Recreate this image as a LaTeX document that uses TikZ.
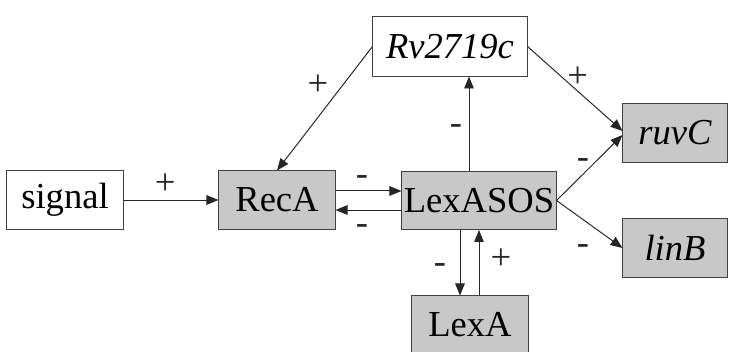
\documentclass[tikz,border=0pt]{standalone}
\usepackage{fontspec}
\setmainfont{Liberation Serif}
\usepackage{xcolor}
\usetikzlibrary{arrows.meta,positioning}

\definecolor{genegray}{RGB}{200,200,200}

\begin{document}
\begin{tikzpicture}[
  x=0.025cm, y=-0.025cm,
  box/.style={draw=black!75, line width=0.7pt, inner sep=0pt, minimum height=1.45cm, font=\fontsize{26}{30}\selectfont},
  gene/.style={box, fill=genegray},
  lbl/.style={inner sep=0pt, font=\fontsize{26}{30}\selectfont},
  arr/.style={line width=0.7pt, black!85, -{Triangle[length=0.3cm,width=0.24cm]}}
]
  \useasboundingbox (0,0) rectangle (732,352);
  \node[box, minimum width=2.9cm] (signal) at (65,200) {signal};
  \node[gene, minimum width=2.9cm] (reca) at (277,200) {RecA};
  \node[gene, minimum width=3.85cm] (lexasos) at (479,200.5) {LexASOS};
  \node[box, minimum width=3.85cm, minimum height=1.475cm] (rv) at (450,46.5) {\itshape Rv2719c};
  \node[gene, minimum width=2.6cm, minimum height=1.475cm] (ruvc) at (675,133) {\itshape ruvC};
  \node[gene, minimum width=2.6cm] (linb) at (675,248) {\itshape linB};
  \node[gene, minimum width=2.9cm] (lexa) at (470,325) {LexA};
  % signalling
  \draw[arr] (signal) -- node[lbl, pos=0.44, shift={(0,-16)}] {+} (reca);
  \draw[arr] (rv.west) -- node[lbl, pos=0.31, shift={(-25,0)}] {+} (reca.north);
  \draw[arr] (rv.east) -- node[lbl, pos=0.36, shift={(16,0)}] {+} ([yshift=0.05cm]ruvc.west);
  \draw[arr] ([xshift=-0.25cm]lexasos.north) -- node[lbl, pos=0.5, shift={(-13,6)}] {-} ([xshift=-0.25cm]lexasos.north |- rv.south);
  \draw[arr] (lexasos.east) -- node[lbl, pos=0.4, shift={(0,-11)}] {-} ([yshift=-0.05cm]ruvc.west);
  \draw[arr] (lexasos.east) -- node[lbl, pos=0.4, shift={(0,30)}] {-} (linb.west);
  % RecA <-> LexASOS
  \draw[arr] ([yshift=0.225cm]reca.east) -- node[lbl, pos=0.4, shift={(0,-10)}] {-} ([yshift=0.225cm]reca.east -| lexasos.west);
  \draw[arr] ([yshift=-0.25cm]reca.east -| lexasos.west) -- node[lbl, pos=0.6, shift={(0,20)}] {-} ([yshift=-0.25cm]reca.east);
  % LexASOS <-> LexA
  \draw[arr] ([xshift=-0.475cm]lexasos.south) -- node[lbl, pos=0.5, shift={(-20,6)}] {-} ([xshift=-0.475cm]lexasos.south |- lexa.north);
  \draw[arr] (lexa.north -| lexasos.south) -- node[lbl, pos=0.55, shift={(22,0)}] {+} (lexasos.south);
\end{tikzpicture}
\end{document}
